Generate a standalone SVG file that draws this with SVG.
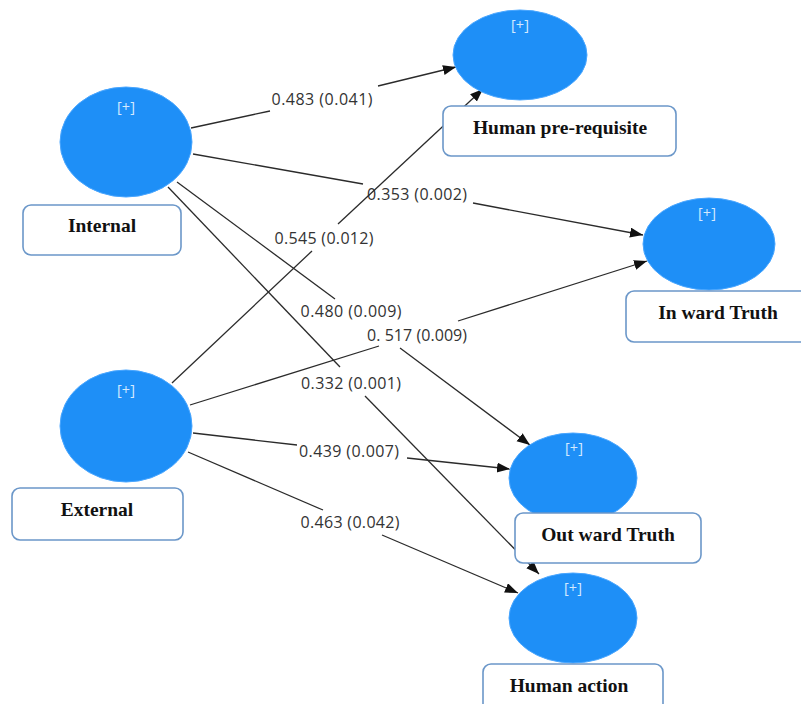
<svg xmlns="http://www.w3.org/2000/svg" width="801" height="704" viewBox="0 0 801 704">
<style>
.lv{fill:#1e8ff7;stroke:#49a6ff;stroke-width:1}
.pl{font-family:"Open Sans","DejaVu Sans",sans-serif;font-size:14.5px;fill:#d4eaff;text-anchor:middle}
.bx{fill:#fff;stroke:#6b97c9;stroke-width:1.6}
.bt{font-family:"Liberation Serif","Times New Roman",serif;font-weight:bold;font-size:19.5px;fill:#111;text-anchor:middle}
.ln{stroke:#2b2b2b;stroke-width:1.3;fill:none}
.lb{font-family:"Open Sans","DejaVu Sans",sans-serif;font-size:16px;fill:#333;text-anchor:middle}
</style>
<defs>
<marker id="ah" markerUnits="userSpaceOnUse" markerWidth="14" markerHeight="11" refX="13" refY="5" orient="auto">
<path d="M0,0 L13,5 L0,10 z" fill="#111"/>
</marker>
</defs>
<rect width="801" height="704" fill="#fff"/>
<g id="connectors">
<line class="ln" x1="191" y1="128" x2="270" y2="111"/>
<line class="ln" x1="378" y1="86" x2="456" y2="67" marker-end="url(#ah)"/>
<text class="lb" x="322" y="105" textLength="101" lengthAdjust="spacing">0.483 (0.041)</text>

<line class="ln" x1="193" y1="154" x2="363" y2="184"/>
<line class="ln" x1="473" y1="203" x2="643" y2="235" marker-end="url(#ah)"/>
<text class="lb" x="417" y="200" textLength="100" lengthAdjust="spacing">0.353 (0.002)</text>

<line class="ln" x1="177" y1="182" x2="335" y2="299"/>
<line class="ln" x1="400" y1="348" x2="530" y2="445" marker-end="url(#ah)"/>
<text class="lb" x="351" y="317" textLength="101" lengthAdjust="spacing">0.480 (0.009)</text>

<line class="ln" x1="168" y1="187" x2="340" y2="367"/>
<line class="ln" x1="365" y1="396" x2="539" y2="574" marker-end="url(#ah)"/>
<text class="lb" x="351" y="389" textLength="100" lengthAdjust="spacing">0.332 (0.001)</text>

<line class="ln" x1="172" y1="383" x2="312" y2="251"/>
<line class="ln" x1="338" y1="224" x2="483" y2="89" marker-end="url(#ah)"/>
<text class="lb" x="324" y="244" textLength="99" lengthAdjust="spacing">0.545 (0.012)</text>

<line class="ln" x1="190" y1="405" x2="379" y2="346"/>
<line class="ln" x1="458" y1="321" x2="647" y2="261" marker-end="url(#ah)"/>
<text class="lb" x="417" y="341" textLength="100" lengthAdjust="spacing">0. 517 (0.009)</text>

<line class="ln" x1="193" y1="433" x2="297" y2="445"/>
<line class="ln" x1="407" y1="458" x2="510" y2="469" marker-end="url(#ah)"/>
<text class="lb" x="349" y="457" textLength="100" lengthAdjust="spacing">0.439 (0.007)</text>

<line class="ln" x1="188" y1="452" x2="323" y2="510"/>
<line class="ln" x1="382" y1="535" x2="518" y2="593" marker-end="url(#ah)"/>
<text class="lb" x="350" y="528" textLength="99" lengthAdjust="spacing">0.463 (0.042)</text>
</g>
<g id="internal">
<ellipse class="lv" cx="126" cy="142" rx="66" ry="55"/>
<text class="pl" x="126" y="112">[+]</text>
<rect class="bx" x="23" y="205" width="158" height="50" rx="8"/>
<text class="bt" x="102" y="232">Internal</text>
</g>
<g id="external">
<ellipse class="lv" cx="126" cy="426" rx="66" ry="56"/>
<text class="pl" x="126" y="395">[+]</text>
<rect class="bx" x="12" y="488" width="171" height="52" rx="8"/>
<text class="bt" x="97" y="516">External</text>
</g>
<g id="human-prerequisite">
<ellipse class="lv" cx="520" cy="55" rx="67" ry="45"/>
<text class="pl" x="520" y="30">[+]</text>
<rect class="bx" x="443" y="106" width="233" height="50" rx="8"/>
<text class="bt" x="560" y="134">Human pre-requisite</text>
</g>
<g id="inward-truth">
<ellipse class="lv" cx="709" cy="244" rx="66" ry="46"/>
<text class="pl" x="707" y="218">[+]</text>
<rect class="bx" x="626" y="291" width="185" height="51" rx="8"/>
<text class="bt" x="718" y="319">In ward Truth</text>
</g>
<g id="outward-truth">
<ellipse class="lv" cx="573" cy="478" rx="64" ry="45"/>
<text class="pl" x="574" y="453">[+]</text>
<rect class="bx" x="515" y="513" width="186" height="50" rx="8"/>
<text class="bt" x="608" y="541">Out ward Truth</text>
</g>
<g id="human-action">
<ellipse class="lv" cx="573" cy="618" rx="64" ry="45"/>
<text class="pl" x="573" y="593">[+]</text>
<rect class="bx" x="483" y="664" width="180" height="50" rx="8"/>
<text class="bt" x="569" y="692">Human action</text>
</g>
</svg>
